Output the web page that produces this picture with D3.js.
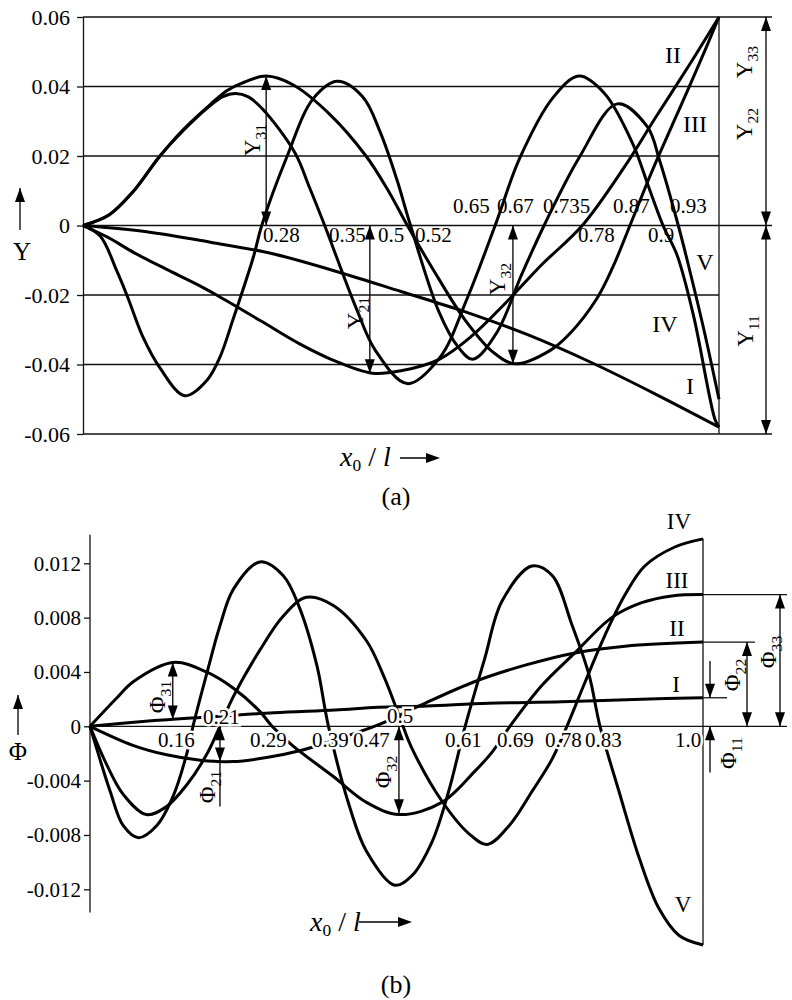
<!DOCTYPE html>
<html>
<head>
<meta charset="utf-8">
<script src="https://cdn.jsdelivr.net/npm/d3@7"></script>
<style>
body{margin:0;background:#fff}
svg{font-family:'Liberation Serif','Times New Roman',serif}
</style>
</head>
<body>
<svg id="chart" width="792" height="1000"></svg>
<script>
// ---- (a) deflection Y: [x0/l, Y]
const aI = [[0,0],[0.1,-0.0018],[0.2,-0.0048],[0.3,-0.0082],[0.4,-0.0133],[0.5,-0.019],[0.6,-0.0248],[0.7,-0.0315],[0.8,-0.0395],[0.9,-0.0485],[1,-0.058]]
const aII = [[0,0],[0.04,-0.0035],[0.08,-0.0078],[0.13,-0.0125],[0.18,-0.017],[0.21,-0.02],[0.28,-0.0275],[0.34,-0.034],[0.39,-0.0385],[0.455,-0.0425],[0.5,-0.0418],[0.56,-0.0385],[0.61,-0.032],[0.666,-0.022],[0.72,-0.0115],[0.785,0],[0.85,0.0165],[0.9,0.031],[0.954,0.0464],[1,0.06]]
const aIII = [[0,0],[0.042,0.0032],[0.079,0.0098],[0.121,0.02],[0.157,0.0275],[0.2,0.0348],[0.226,0.0388],[0.25,0.041],[0.288,0.043],[0.33,0.0405],[0.388,0.032],[0.445,0.02],[0.48,0.01],[0.51,0],[0.55,-0.0125],[0.6,-0.027],[0.645,-0.0365],[0.68,-0.0398],[0.734,-0.036],[0.766,-0.031],[0.808,-0.021],[0.833,-0.012],[0.86,0],[0.886,0.0118],[0.904,0.0196],[0.934,0.032],[0.97,0.047],[1,0.06]]
const aIV = [[0,0],[0.042,0.0032],[0.079,0.0098],[0.121,0.02],[0.157,0.0272],[0.2,0.0345],[0.22,0.0371],[0.24,0.038],[0.26,0.037],[0.283,0.0334],[0.333,0.021],[0.356,0.011],[0.38,0],[0.43,-0.024],[0.46,-0.036],[0.51,-0.0455],[0.561,-0.038],[0.604,-0.021],[0.648,0],[0.687,0.0195],[0.739,0.0368],[0.78,0.043],[0.82,0.038],[0.865,0.0233],[0.888,0.0118],[0.912,0],[0.934,-0.0085],[0.96,-0.026],[0.994,-0.056],[1,-0.058]]
const aV = [[0,0],[0.027,-0.003],[0.053,-0.013],[0.07,-0.0205],[0.094,-0.032],[0.121,-0.041],[0.16,-0.049],[0.195,-0.0445],[0.215,-0.038],[0.236,-0.027],[0.268,-0.009],[0.281,0],[0.32,0.0195],[0.362,0.0365],[0.4,0.0415],[0.44,0.037],[0.467,0.027],[0.493,0.0135],[0.515,0],[0.56,-0.025],[0.59,-0.035],[0.613,-0.0385],[0.65,-0.031],[0.69,-0.014],[0.725,0],[0.78,0.0195],[0.84,0.035],[0.887,0.0285],[0.907,0.0185],[0.936,0],[0.95,-0.01],[0.975,-0.029],[1,-0.05]]

// ---- (b) rotation Phi
const bI = [[0,0],[0.1,0.0004],[0.18,0.00065],[0.3,0.001],[0.4,0.0012],[0.47,0.0014],[0.55,0.0015],[0.65,0.0017],[0.77,0.0018],[0.9,0.002],[1,0.0021]]
const bII = [[0,0],[0.07,-0.0014],[0.125,-0.0021],[0.18,-0.0025],[0.233,-0.0026],[0.288,-0.0023],[0.342,-0.0018],[0.4,-0.001],[0.47,0.0001],[0.537,0.0015],[0.628,0.0033],[0.71,0.0045],[0.791,0.0054],[0.873,0.0059],[1,0.0062]]
const bIII = [[0,0],[0.044,0.0021],[0.071,0.0033],[0.136,0.0047],[0.19,0.004],[0.234,0.0028],[0.277,0.0011],[0.297,0],[0.33,-0.0014],[0.397,-0.0037],[0.451,-0.0056],[0.505,-0.0065],[0.574,-0.0056],[0.628,-0.0033],[0.656,-0.0019],[0.685,0],[0.737,0.003],[0.791,0.0054],[0.851,0.008],[0.9,0.0091],[0.949,0.0096],[1,0.0097]]
const bIV = [[0,0],[0.027,-0.0028],[0.054,-0.005],[0.092,-0.0065],[0.125,-0.0059],[0.158,-0.0043],[0.19,-0.0021],[0.212,0],[0.234,0.0022],[0.277,0.0056],[0.315,0.0081],[0.353,0.0095],[0.397,0.0089],[0.451,0.0063],[0.48,0.0036],[0.505,0.0007],[0.525,-0.0016],[0.574,-0.0055],[0.618,-0.0079],[0.648,-0.0087],[0.684,-0.0073],[0.721,-0.0048],[0.754,-0.0024],[0.778,0],[0.808,0.0033],[0.84,0.0067],[0.873,0.0097],[0.905,0.0118],[0.954,0.0132],[1,0.0138]]
const bV = [[0,0],[0.016,-0.0024],[0.033,-0.0048],[0.054,-0.0073],[0.079,-0.0082],[0.109,-0.0073],[0.136,-0.0051],[0.158,-0.002],[0.168,0],[0.19,0.0038],[0.212,0.0074],[0.234,0.0101],[0.277,0.0121],[0.315,0.0111],[0.342,0.0087],[0.37,0.0045],[0.389,0],[0.424,-0.006],[0.451,-0.0092],[0.497,-0.0117],[0.525,-0.011],[0.558,-0.0085],[0.585,-0.0048],[0.612,0],[0.644,0.005],[0.672,0.0092],[0.721,0.0118],[0.754,0.0111],[0.786,0.0075],[0.814,0.0038],[0.832,0],[0.863,-0.0048],[0.896,-0.0097],[0.928,-0.0134],[0.961,-0.0154],[1,-0.0161]]

// tick values / labels
const ticksA = [0.06,0.04,0.02,0,-0.02,-0.04,-0.06]
const tickLabelsA = ["0.06","0.04","0.02","0","-0.02","-0.04","-0.06"]
const ticksB = [0.012,0.008,0.004,0,-0.004,-0.008,-0.012]
const tickLabelsB = ["0.012","0.008","0.004","0","-0.004","-0.008","-0.012"]

// zero crossing notes
const nodesA = ["0.28","0.35","0.5","0.52","0.78","0.9","0.65","0.67","0.735","0.87","0.93"]
const nodesB = ["0.16","0.29","0.39","0.47","0.61","0.69","0.78","0.83","1.0","0.21","0.5"]
const romans = ["I","II","III","IV","V"]

const svg = d3.select("#chart")
const serif = "'Liberation Serif', 'Times New Roman', serif"

// scales
const xA = d3.scaleLinear().domain([0,1]).range([83,719])
const yA = d3.scaleLinear().domain([-0.06,0.06]).range([434,17])
const xB = d3.scaleLinear().domain([0,1]).range([90,703])
const yB = d3.scaleLinear().domain([-0.012,0.012]).range([889.3,563.3])

// helpers
let head = (g,x,tip,dir,horiz) => {
    // dir +1: points down (or right)
    let p = horiz
        ? `M${tip},${x}L${tip-dir*14},${x-5}L${tip-dir*14},${x+5}Z`
        : `M${x},${tip}L${x-5},${tip-dir*14}L${x+5},${tip-dir*14}Z`
    g.append("path").attr("d",p).attr("fill","#000")
}
let vArrow = (g,x,y1,y2,h1,h2) => {
    g.append("line").attr("x1",x).attr("x2",x).attr("y1",y1).attr("y2",y2)
        .attr("stroke","#000").attr("stroke-width",1.3)
    if (h1) head(g,x,y1,Math.sign(y1-y2))
    if (h2) head(g,x,y2,Math.sign(y2-y1))
}
let hLine = (g,x1,x2,y,w) => {
    g.append("line").attr("x1",x1).attr("x2",x2).attr("y1",y).attr("y2",y)
        .attr("stroke","#111").attr("stroke-width",w||1.3)
}
let subLabel = (g,x,y,main,sub,size) => {
    let t = g.append("text").attr("transform",`translate(${x},${y}) rotate(-90)`)
        .attr("text-anchor","middle").attr("font-size",size).attr("font-family",serif)
    t.append("tspan").attr("dy","0.35em").text(main)
    t.append("tspan").attr("font-size",size*0.68).attr("dy",size*0.25).text(sub)
}
let axisTitle = (g,x,baseline,size) => {
    let t = g.append("text").attr("x",x).attr("y",baseline).attr("font-family",serif).attr("font-size",size)
    t.append("tspan").attr("font-style","italic").text("x")
    t.append("tspan").attr("font-size",size*0.62).attr("dy",5).text("0")
    t.append("tspan").attr("dy",-5).text(" / ")
    t.append("tspan").attr("font-style","italic").text("l")
}

// ================= (a) =================
const ga = svg.append("g")
// grid lines
ga.selectAll("line.grid").data(ticksA).join("line").attr("class","grid")
    .attr("x1",xA(0)).attr("x2",d => (d==0.06||d==0||d==-0.06) ? 772 : xA(1))
    .attr("y1",d=>yA(d)).attr("y2",d=>yA(d))
    .attr("stroke","#111").attr("stroke-width",1.3)
ga.append("line").attr("x1",xA(1)).attr("x2",xA(1)).attr("y1",yA(0.06)).attr("y2",yA(-0.06))
    .attr("stroke","#111").attr("stroke-width",1.3)

let axa = ga.append("g").attr("transform",`translate(${xA(0)},0)`)
    .call(d3.axisLeft(yA).tickValues(ticksA).tickFormat((d,i)=>tickLabelsA[i]).tickSize(6).tickSizeOuter(0).tickPadding(7))
axa.attr("font-family",serif).attr("font-size",22)
axa.select(".domain").attr("stroke","#111").attr("stroke-width",1.3)
axa.selectAll(".tick line").attr("stroke","#111").attr("stroke-width",1.3)
axa.selectAll(".tick text").attr("fill","#000")

let lineA = d3.line().x(d=>xA(d[0])).y(d=>yA(d[1])).curve(d3.curveCatmullRom.alpha(0.5))
ga.selectAll("path.curve").data([aI,aII,aIII,aIV,aV]).join("path").attr("class","curve")
    .attr("d",lineA).attr("fill","none").attr("stroke","#000").attr("stroke-width",3)
    .attr("stroke-linejoin","round")

// zero crossing notes
const nodesAPos = [[263,242],[329,242],[378,242],[415,242],[578,242],[648,242],[453,213],[497,213],[543,213],[613,213],[670,213]]
ga.selectAll("text.node").data(nodesA).join("text").attr("class","node")
    .attr("x",(d,i)=>nodesAPos[i][0]).attr("y",(d,i)=>nodesAPos[i][1])
    .attr("font-size",21).attr("font-family",serif).text(d=>d)

// roman numerals
const romanAPos = [[690,386],[673,55],[695,124],[665,324],[705,262]]
ga.selectAll("text.roman").data(romans).join("text").attr("class","roman")
    .attr("x",(d,i)=>romanAPos[i][0]).attr("y",(d,i)=>romanAPos[i][1]).attr("dy","0.35em")
    .attr("text-anchor","middle").attr("font-size",24).attr("font-family",serif).text(d=>d)

// amplitude arrows
vArrow(ga,xA(0.288),yA(0.043),yA(0),true,true)
vArrow(ga,xA(0.451),yA(0),yA(-0.0425),true,true)
vArrow(ga,xA(0.676),yA(0),yA(-0.0398),true,true)
vArrow(ga,766,yA(0.06),yA(0),true,true)
vArrow(ga,766,yA(0),yA(-0.06),true,true)
subLabel(ga,252,140,"Y","31",23)
subLabel(ga,355,313,"Y","21",23)
subLabel(ga,497,279,"Y","32",23)
subLabel(ga,744,62,"Y","33",23)
subLabel(ga,744,124,"Y","22",23)
subLabel(ga,745,331,"Y","11",23)

// axis titles
vArrow(ga,20,188,230,true,false)
ga.append("text").attr("x",22).attr("y",260).attr("text-anchor","middle")
    .attr("font-size",25).attr("font-family",serif).text("Y")
axisTitle(ga,340,466,28)
ga.append("line").attr("x1",400).attr("x2",430).attr("y1",458).attr("y2",458).attr("stroke","#000").attr("stroke-width",1.5)
head(ga,458,440,1,true)
ga.append("text").attr("x",396).attr("y",505).attr("text-anchor","middle")
    .attr("font-size",26).attr("font-family",serif).text("(a)")

// ================= (b) =================
const gb = svg.append("g")
gb.append("line").attr("x1",xB(0)).attr("x2",xB(0)).attr("y1",yB(0.0141)).attr("y2",yB(-0.0137))
    .attr("stroke","#111").attr("stroke-width",1.3)
let axb = gb.append("g").attr("transform",`translate(${xB(0)},0)`)
    .call(d3.axisLeft(yB).tickValues(ticksB).tickFormat((d,i)=>tickLabelsB[i]).tickSize(6).tickSizeOuter(0).tickPadding(3))
axb.attr("font-family",serif).attr("font-size",21)
axb.select(".domain").remove()
axb.selectAll(".tick line").attr("stroke","#111").attr("stroke-width",1.3)
axb.selectAll(".tick text").attr("fill","#000")

hLine(gb,xB(0),787,yB(0))
hLine(gb,xB(1),787,yB(0.0097))
hLine(gb,xB(1),755,yB(0.0062))
hLine(gb,xB(1),727,yB(0.0021))
gb.append("line").attr("x1",xB(1)).attr("x2",xB(1)).attr("y1",yB(0.0138)).attr("y2",yB(-0.0161))
    .attr("stroke","#111").attr("stroke-width",1.3)

let lineB = d3.line().x(d=>xB(d[0])).y(d=>yB(d[1])).curve(d3.curveCatmullRom.alpha(0.5))
gb.selectAll("path.curve").data([bI,bII,bIII,bIV,bV]).join("path").attr("class","curve")
    .attr("d",lineB).attr("fill","none").attr("stroke","#000").attr("stroke-width",3)
    .attr("stroke-linejoin","round")

const nodesBPos = [[158,747],[250,747],[312,747],[353,747],[445,747],[497,747],[545,747],[585,747],[675,747],[203,724],[387,723]]
gb.selectAll("text.node").data(nodesB).join("text").attr("class","node")
    .attr("x",(d,i)=>nodesBPos[i][0]).attr("y",(d,i)=>nodesBPos[i][1])
    .attr("font-size",21).attr("font-family",serif)
    .attr("stroke","#fff").attr("stroke-width",5).attr("paint-order","stroke")
    .text(d=>d)

const romanBPos = [[676,684],[677,628],[677,580],[679,521],[683,904]]
gb.selectAll("text.roman").data(romans).join("text").attr("class","roman")
    .attr("x",(d,i)=>romanBPos[i][0]).attr("y",(d,i)=>romanBPos[i][1]).attr("dy","0.35em")
    .attr("text-anchor","middle").attr("font-size",23).attr("font-family",serif).text(d=>d)

vArrow(gb,xB(0.135),yB(0.0047),yB(0.0005),true,true)
vArrow(gb,xB(0.212),yB(0),yB(-0.0026),true,true)
gb.append("line").attr("x1",xB(0.212)).attr("x2",xB(0.212)).attr("y1",yB(-0.0026)).attr("y2",yB(-0.0059))
    .attr("stroke","#000").attr("stroke-width",1.3)
vArrow(gb,xB(0.504),yB(0),yB(-0.0064),true,true)
vArrow(gb,710,yB(0.0048),yB(0.0021),false,true)
vArrow(gb,710,yB(-0.0034),yB(0),false,true)
vArrow(gb,747,yB(0.0062),yB(0),true,true)
vArrow(gb,780,yB(0.0097),yB(0),true,true)
subLabel(gb,157,697,"Φ","31",23)
subLabel(gb,207,787,"Φ","21",23)
subLabel(gb,383,772,"Φ","32",23)
subLabel(gb,732,675,"Φ","22",23)
subLabel(gb,768,652,"Φ","33",23)
subLabel(gb,728,753,"Φ","11",23)

vArrow(gb,18,695,735,true,false)
gb.append("text").attr("x",18).attr("y",760).attr("text-anchor","middle")
    .attr("font-size",25).attr("font-family",serif).text("Φ")
axisTitle(gb,310,931,28)
gb.append("line").attr("x1",359).attr("x2",400).attr("y1",922).attr("y2",922).attr("stroke","#000").attr("stroke-width",1.5)
head(gb,922,412,1,true)
gb.append("text").attr("x",396).attr("y",993).attr("text-anchor","middle")
    .attr("font-size",26).attr("font-family",serif).text("(b)")
</script>
</body>
</html>
